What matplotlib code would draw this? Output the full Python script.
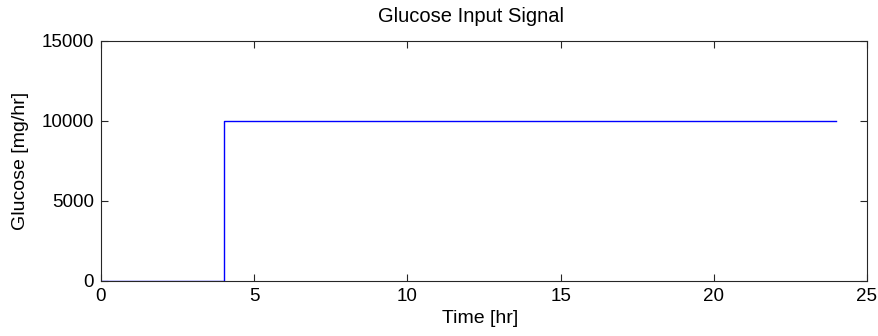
import matplotlib
matplotlib.use("Agg")
import matplotlib.pyplot as plt

# glucose infusion: off until t=4 hr, then constant
time_hr = [0, 4, 24]
glucose = [0, 10000, 10000]

plt.rcParams['font.family'] = ['Liberation Sans', 'DejaVu Sans']

fig = plt.figure(figsize=(8.79, 3.36), dpi=100)
ax = fig.add_axes([0.1149, 0.1637, 0.8714, 0.7143])

ax.step(time_hr, glucose, where='post', color='blue', linewidth=1.0)

ax.set_xlim(0, 25)
ax.set_ylim(0, 15000)
ax.set_xticks([0, 5, 10, 15, 20, 25])
ax.set_yticks([0, 5000, 10000, 15000])
ax.tick_params(direction='in', top=True, right=True, length=5, width=0.8,
               labelsize=13.5, colors='#262626', labelcolor='black', pad=5)
for s in ax.spines.values():
    s.set_color('#262626')
    s.set_linewidth(0.8)

ax.set_title('Glucose Input Signal', fontsize=14.5, pad=14, x=0.483)
ax.set_xlabel('Time [hr]', fontsize=14, labelpad=4, x=0.495)
ax.set_ylabel('Glucose [mg/hr]', fontsize=14, labelpad=9)

fig.savefig('out.png', dpi=100)
